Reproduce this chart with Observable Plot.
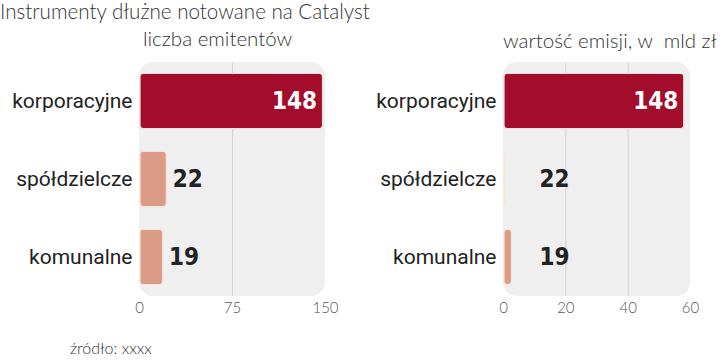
<!DOCTYPE html>
<html><head><meta charset="utf-8">
<script src="https://cdn.jsdelivr.net/npm/d3@7"></script>
<script src="https://cdn.jsdelivr.net/npm/@observablehq/plot@0.6"></script>
<style>
body{margin:0;background:#fff;}
#wrap{position:relative;width:720px;height:360px;overflow:hidden;font-family:Lato,sans-serif;}
.t{position:absolute;white-space:nowrap;color:#333;font-weight:300;line-height:1;}
.p{position:absolute;top:0;}
</style></head><body><div id="wrap">
<div class="t" style="left:0;top:1px;font-size:20.6px">Instrumenty dłużne notowane na Catalyst</div>
<div class="t" style="left:143px;top:28px;font-size:20.5px">liczba emitentów</div>
<div class="t" style="left:503px;top:30px;font-size:20.5px">wartość emisji, w&nbsp; mld zł</div>
<div class="t" style="left:70px;top:340px;font-size:16px">źródło: xxxx</div>
<div class="p" id="left" style="left:0"></div>
<div class="p" id="right" style="left:360px"></div>
</div>
<script>
const categories = ["korporacyjne", "spółdzielcze", "komunalne"];
const counts = [148, 22, 19];          // liczba emitentów
const issueValues = [58, 0.6, 2.7];    // wartość emisji, mld zł
const leftTicks = [0, 75, 150];
const rightTicks = [0, 20, 40, 60];

const dark = "#a30d2b", light = "#dc9b86";
const rows = categories.map((c, i) => ({cat: c, count: counts[i], val: issueValues[i]}));
const labelFont = "Roboto, sans-serif";
const numFont = "'DejaVu Sans Condensed', 'DejaVu Sans', sans-serif";

function panel({field, max, ticks, marginLeft, marginRight, fixedLabel}) {
  const isTop = d => d.cat === categories[0];
  return Plot.plot({
    width: 360, height: 320,
    marginLeft, marginRight, marginTop: 62, marginBottom: 24,
    style: {fontFamily: "Lato, sans-serif", background: "transparent"},
    x: {domain: [0, max]},
    y: {domain: categories, padding: 0},
    marks: [
      Plot.barX([{a: 0, b: max}], {x1: "a", x2: "b", fill: "#efefef", rx: 14}),
      Plot.ruleX(ticks.slice(1, -1), {stroke: "#d2d2d2"}),
      Plot.barX(rows, {x: field, y: "cat", fill: d => isTop(d) ? dark : light,
        insetTop: 11.5, insetBottom: 11.5, insetLeft: 1, rx: 3, stroke: "#f7e4df", strokeWidth: 1.2}),
      Plot.text(rows.filter(isTop), {x: field, y: "cat", text: d => String(d.count),
        textAnchor: "end", dx: -6, fill: "white", fontSize: 24, fontWeight: "bold", fontFamily: numFont}),
      fixedLabel
        ? Plot.text(rows.filter(d => !isTop(d)), {x: d => 0, y: "cat", text: d => String(d.count),
            textAnchor: "start", dx: 36, fill: "#222", fontSize: 24, fontWeight: "bold", fontFamily: numFont})
        : Plot.text(rows.filter(d => !isTop(d)), {x: field, y: "cat", text: d => String(d.count),
            textAnchor: "start", dx: 6, fill: "#222", fontSize: 24, fontWeight: "bold", fontFamily: numFont}),
      Plot.text(rows, {x: d => 0, y: "cat", text: "cat", textAnchor: "end", dx: -7,
        fill: "#222", fontSize: 21, fontFamily: labelFont}),
      Plot.axisY({ticks: [], label: null}),
      Plot.axisX({ticks, tickSize: 0, tickPadding: 6, fontSize: 15, color: "#555", label: null, fontWeight: 300})
    ]
  });
}

document.getElementById("left").append(panel({field: "count", max: 150, ticks: leftTicks, marginLeft: 139, marginRight: 35, fixedLabel: false}));
document.getElementById("right").append(panel({field: "val", max: 60, ticks: rightTicks, marginLeft: 143, marginRight: 30, fixedLabel: true}));
</script>
</body></html>
